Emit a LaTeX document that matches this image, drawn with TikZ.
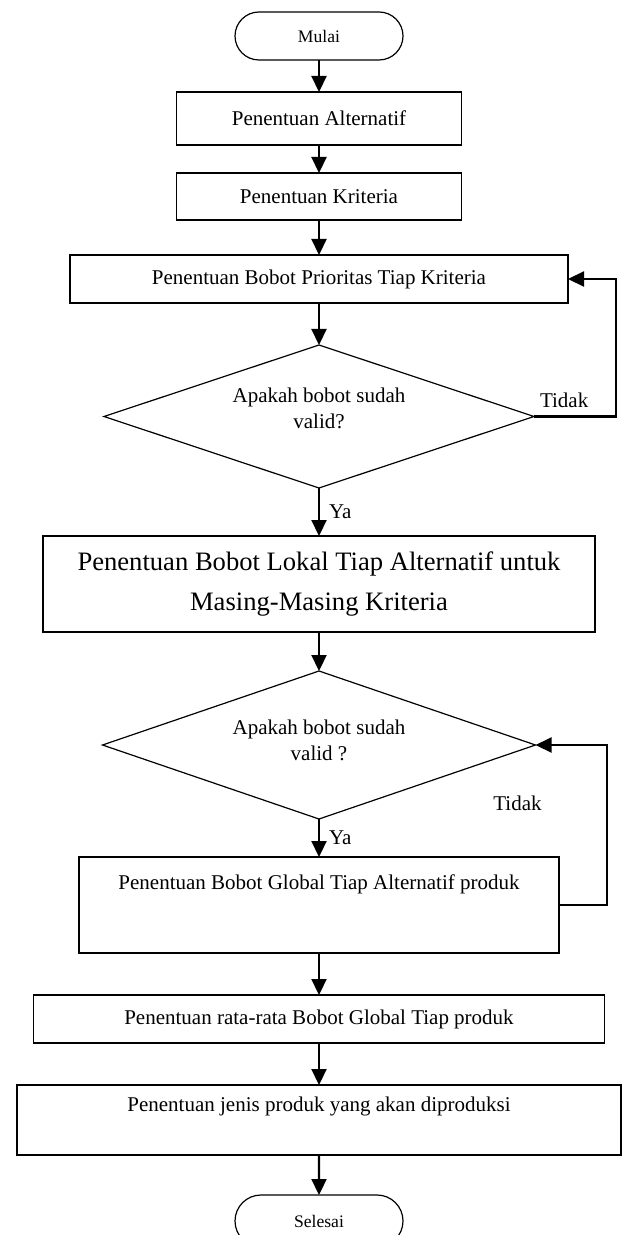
\documentclass[tikz,border=0pt]{standalone}
\usepackage{fontspec}
\setmainfont{Liberation Serif}
\usetikzlibrary{shapes.geometric,shapes.misc,arrows.meta,positioning,calc}

\begin{document}
\begin{tikzpicture}[x=0.5pt,y=-0.5pt,every node/.style={outer sep=0pt}]
\tikzset{
    terminal/.style = {rounded rectangle,draw,line width=0.6pt,minimum width=84pt,inner sep=0pt,
                        font=\fontsize{8.8}{10}\selectfont},
    process/.style  = {rectangle,draw,line width=0.7pt,inner sep=2pt,font=\fontsize{10.5}{12.6}\selectfont},
    decision/.style = {diamond,draw,line width=0.6pt,inner sep=0pt,aspect=3},
    toptext/.style  = {text height=7.5pt,text depth=#1},
    flow/.style     = {line width=1.1pt,-{Triangle[width=7.5pt,length=8pt]}},
    lbl/.style      = {inner sep=0pt,font=\fontsize{10.5}{13}\selectfont}
}

\useasboundingbox (0,0) rectangle (630,1235);

%% main column
\node (mulai) [terminal,minimum height=24pt] at (319,36) {Mulai};
\node (alt) [process,minimum width=142.5pt,minimum height=26.5pt] at (319,118.5) {Penentuan Alternatif};
\node (krit) [process,minimum width=142.5pt,minimum height=23.5pt] at (319,196.5) {Penentuan Kriteria};
\node (prior) [process,minimum width=249pt,minimum height=24pt] at (319,279) {Penentuan Bobot Prioritas Tiap Kriteria};

\node (cek1) [decision,minimum width=215pt,minimum height=71.5pt] at (319,416.5) {};
\node (cek1t) [lbl,align=center,yshift=4pt] at (cek1) {Apakah bobot sudah\\valid?};

\node (lokal) [process,align=center,minimum width=276pt,minimum height=48pt,
               font=\fontsize{13.3}{20}\selectfont] at (319,584)
               {Penentuan Bobot Lokal Tiap Alternatif untuk\\Masing-Masing Kriteria};

\node (cek2) [decision,minimum width=216.5pt,minimum height=74pt] at (319,745) {};
\node (cek2t) [lbl,align=center,yshift=2.5pt] at (cek2) {Apakah bobot sudah\\valid ?};

\node (glob) [process,toptext=23pt,minimum width=240pt,minimum height=48pt] at (319,905)
               {Penentuan Bobot Global Tiap Alternatif produk};
\node (rata) [process,minimum width=285.5pt,minimum height=24pt] at (319,1019)
               {Penentuan rata-rata Bobot Global Tiap produk};
\node (jenis) [process,toptext=16pt,minimum width=302pt,minimum height=35pt] at (319,1120)
               {Penentuan jenis produk yang akan diproduksi};
\node (selesai) [terminal,minimum height=26pt] at (319,1221) {Selesai};

%% arrows down
\draw [flow] (mulai) -- (alt);
\draw [flow] (alt) -- (krit);
\draw [flow] (krit) -- (prior);
\draw [flow] (prior) -- (cek1);
\draw [flow] (cek1) -- node [lbl,right=5pt] (ya1) {Ya} (lokal);
\draw [flow] (lokal) -- (cek2);
\draw [flow] (cek2) -- node [lbl,right=5pt] (ya2) {Ya} (glob);
\draw [flow] (glob) -- (rata);
\draw [flow] (rata) -- (jenis);
\draw [flow] (jenis) -- (selesai);

%% loops back
\draw [flow] (cek1.east) -- ++(82,0) |- (prior.east);
\node (tidak1) [lbl,above right=4.5pt and 3pt of cek1.east] {Tidak};
\draw [flow] (glob.east) -- ++(48,0) |- (cek2.east);
\node (tidak2) [lbl] at ($(cek2.east)+(-18,58)$) {Tidak};

\end{tikzpicture}
\end{document}
